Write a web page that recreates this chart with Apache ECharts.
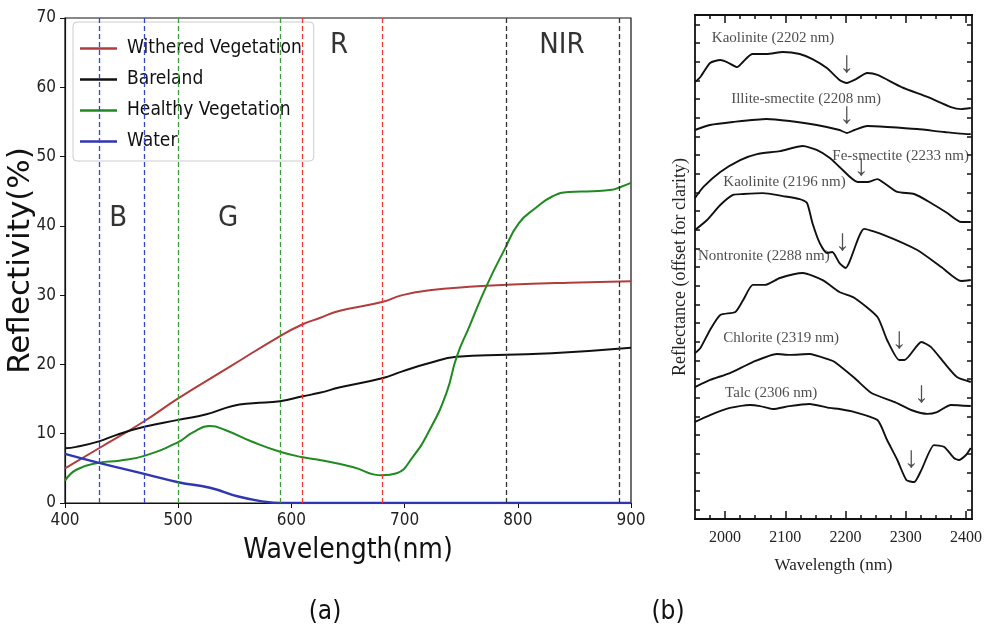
<!DOCTYPE html>
<html>
<head>
<meta charset="utf-8">
<script src="https://cdn.jsdelivr.net/npm/echarts@6.0.0/dist/echarts.min.js"></script>
<style>
  html, body { margin: 0; padding: 0; background: #fff; }
  #chart { width: 988px; height: 637px; }
</style>
</head>
<body>
<div id="chart"></div>
<script>
// (a) reflectivity curves, [wavelength nm, reflectivity %]
var withered = [[400,5.0],[430,7.9],[470,11.8],[500,15.1],[545,19.6],[590,24.1],[610,25.8],[625,26.7],[642,27.7],[680,29.0],[698,30.0],[722,30.7],[757,31.2],[790,31.5],[845,31.8],[900,32.0]];
var bareland = [[400,7.9],[410,8.1],[430,8.9],[445,9.8],[470,11.0],[500,12.0],[525,12.8],[548,14.0],[566,14.4],[590,14.7],[610,15.4],[625,15.9],[643,16.7],[680,18.0],[698,19.0],[722,20.2],[746,21.1],[790,21.4],[830,21.6],[900,22.4]];
var healthy = [[400,3.2],[410,4.8],[430,5.8],[448,6.1],[470,6.8],[500,8.8],[513,10.2],[528,11.1],[542,10.5],[566,8.8],[590,7.4],[610,6.6],[625,6.2],[654,5.2],[680,4.0],[693,4.3],[707,6.6],[722,10.5],[737,15.9],[746,21.1],[757,25.4],[772,31.2],[788,36.5],[801,40.4],[816,42.6],[830,44.2],[845,44.9],[866,45.0],[883,45.2],[889,45.5],[900,46.2]];
var water = [[400,7.1],[430,5.8],[470,4.2],[500,3.0],[528,2.2],[554,0.9],[578,0.15],[590,0],[900,0]];

// band edges (nm)
var bandBlue = [430, 470];
var bandGreen = [500, 590];
var bandRed = [610, 680];
var bandNir = [790, 890];

// (b) mineral spectra, [wavelength nm, reflectance offset for clarity]
var kaolinite2202 = [[1950,23.41],[1959,23.68],[1975,24.43],[1992,24.59],[2003,24.48],[2020,24.21],[2028,24.43],[2045,24.91],[2069,24.91],[2096,25.02],[2124,24.91],[2145,24.64],[2169,24.16],[2190,23.52],[2202,23.36],[2215,23.52],[2236,23.89],[2253,23.79],[2293,23.14],[2336,22.61],[2375,22.07],[2392,21.96],[2408,22.02]];
var illite2208 = [[1950,20.84],[1975,21.11],[2013,21.27],[2069,21.43],[2107,21.32],[2152,21.11],[2190,20.84],[2202,20.68],[2215,20.84],[2236,21.05],[2269,21.0],[2319,20.89],[2364,20.73],[2402,20.62],[2408,20.62]];
var feSmectite2233 = [[1950,17.2],[1964,17.79],[1992,18.59],[2025,19.23],[2053,19.55],[2091,19.71],[2129,19.98],[2152,19.77],[2174,19.34],[2190,18.86],[2220,18.05],[2236,18.05],[2253,18.21],[2264,18.0],[2286,17.52],[2314,17.41],[2342,16.93],[2369,16.39],[2392,15.91],[2408,15.91]];
var kaolinite2196 = [[1950,15.48],[1970,16.02],[1992,16.82],[2013,17.36],[2030,17.41],[2063,17.46],[2096,17.3],[2124,17.14],[2136,16.93],[2145,15.86],[2157,14.79],[2169,14.25],[2178,14.3],[2190,13.71],[2200,13.45],[2231,15.54],[2264,15.21],[2319,14.41],[2359,13.5],[2392,12.75],[2408,12.8]];
var nontronite2288 = [[1950,8.89],[1959,9.16],[1975,10.13],[1992,10.93],[2017,11.09],[2030,11.73],[2046,12.54],[2066,12.54],[2091,12.91],[2129,13.18],[2162,12.8],[2190,12.16],[2215,11.84],[2253,10.82],[2269,9.59],[2289,8.52],[2298,8.52],[2326,9.48],[2342,9.21],[2364,8.36],[2385,7.61],[2408,7.34]];
var chlorite2319 = [[1950,7.07],[1975,7.45],[2008,7.82],[2046,8.41],[2086,8.84],[2107,8.79],[2140,8.84],[2174,8.52],[2182,8.41],[2215,7.55],[2243,6.75],[2281,6.27],[2309,5.84],[2336,5.63],[2352,5.73],[2375,6.11],[2408,6.05]];
var talc2306 = [[1950,5.2],[1975,5.57],[2008,5.95],[2041,6.11],[2058,6.05],[2079,5.89],[2107,6.05],[2140,6.16],[2174,5.95],[2190,5.89],[2215,5.73],[2253,5.3],[2269,4.23],[2286,3.16],[2301,2.09],[2314,1.98],[2326,2.63],[2347,3.96],[2364,3.86],[2380,3.27],[2388,3.16],[2400,3.43],[2408,3.8]];

var mineralNames = ['Kaolinite (2202 nm)', 'Illite-smectite (2208 nm)', 'Fe-smectite (2233 nm)', 'Kaolinite (2196 nm)', 'Nontronite (2288 nm)', 'Chlorite (2319 nm)', 'Talc (2306 nm)'];
// absorption feature marked by each arrow (nm)
var arrowNm = [2202, 2202, 2226, 2195, 2289, 2326, 2309];

// (b) tick marks
var bTicksMinor = [1975,2000,2025,2050,2075,2100,2125,2150,2175,2200,2225,2250,2275,2300,2325,2350,2375,2400];
var bTicksMajor = [2000,2100,2200,2300,2400];
var bTicksY = [0.5,1.5,2.5,3.5,4.5,5.5,6.5,7.5,8.5,9.5,10.5,11.5,12.5,13.5,14.5,15.5,16.5,17.5,18.5,19.5,20.5,21.5,22.5,23.5,24.5,25.5,26.5];

var sansC = '"DejaVu Sans Condensed","Liberation Sans Narrow","DejaVu Sans",sans-serif';
var sans = '"DejaVu Sans",sans-serif';
var serif = '"Liberation Serif","DejaVu Serif",serif';

// where the text pieces sit, in axis units
var bandLabelAt = [[447, 41.1], [544, 41.1], [642, 66.1], [839, 66.1]];
var mineralLabelAt = [[1978, 25.77], [2010, 22.5], [2178, 19.45], [1997, 18.05], [1955, 14.09], [1997, 9.70], [2000, 6.75]];
var arrowY = [24.37, 21.64, 18.86, 14.84, 9.59, 6.70, 3.21];

var chart = echarts.init(document.getElementById('chart'));

function bandLines(edges, color) {
    return {
        silent: true, symbol: 'none', label: { show: false },
        lineStyle: { color: color, type: [5, 3], width: 1.3 },
        data: edges.map(function (x) { return { xAxis: x }; })
    };
}

function bAxis(pos, ticks, len, withLabels) {
    return {
        type: 'value', gridIndex: 1, position: pos, min: 1950, max: 2410,
        axisLine: { show: true, lineStyle: { color: '#111', width: 1.8 } },
        axisTick: { show: true, inside: true, length: len, customValues: ticks, lineStyle: { color: '#111', width: 1.5 } },
        axisLabel: withLabels ? { show: true, customValues: bTicksMajor, margin: 11, color: '#222', fontFamily: serif, fontSize: 16, formatter: function (v) { return String(v); } } : { show: false },
        splitLine: { show: false }
    };
}

var bSpectra = [kaolinite2202, illite2208, feSmectite2233, kaolinite2196, nontronite2288, chlorite2319, talc2306];

function curve(name, data, color, width, marks) {
    return { name: name, type: 'line', data: data, smooth: 0.5, symbol: 'none', lineStyle: { color: color, width: width }, itemStyle: { color: color }, markLine: marks, z: 3 };
}

var series = [
    curve('Withered Vegetation', withered, '#b03c3c', 2, bandLines(bandRed, '#ee3a3a')),
    curve('Bareland', bareland, '#111', 2, bandLines(bandNir, '#333')),
    curve('Healthy Vegetation', healthy, '#1f8a1f', 2, bandLines(bandGreen, '#3a9d3a')),
    curve('Water', water, '#2e36b0', 2.4, bandLines(bandBlue, '#3b43c8')),
    {
        type: 'scatter', symbolSize: 0, silent: true, xAxisIndex: 0, yAxisIndex: 0,
        data: ['B', 'G', 'R', 'NIR'].map(function (n, i) { return { name: n, value: bandLabelAt[i] }; }),
        label: { show: true, position: 'inside', formatter: '{b}', color: '#000', fontFamily: sansC, fontSize: 29 }
    }
];

bSpectra.forEach(function (d) {
    series.push({ type: 'line', xAxisIndex: 2, yAxisIndex: 1, data: d, symbol: 'none', smooth: 0.2, lineStyle: { color: '#111', width: 1.9 }, silent: true });
});
series.push({
    type: 'scatter', symbolSize: 0, silent: true, xAxisIndex: 2, yAxisIndex: 1,
    data: mineralNames.map(function (n, i) { return { name: n, value: mineralLabelAt[i] }; }),
    label: { show: true, position: 'right', distance: 0, formatter: '{b}', color: '#222', fontFamily: serif, fontSize: 15 }
});
series.push({
    type: 'scatter', symbolSize: 0, silent: true, xAxisIndex: 2, yAxisIndex: 1,
    data: arrowNm.map(function (x, i) { return [x, arrowY[i]]; }),
    label: { show: true, position: 'inside', formatter: '\u2193', color: '#222', fontFamily: serif, fontSize: 30 }
});

chart.setOption({
    animation: false,
    backgroundColor: '#fff',
    grid: [
        { left: 65, right: 357, top: 18, bottom: 134, show: true, borderColor: '#111', borderWidth: 1.2, outerBoundsMode: 'none' },
        { left: 695, right: 16, top: 15, bottom: 118, outerBoundsMode: 'none' }
    ],
    legend: {
        data: ['Withered Vegetation', 'Bareland', 'Healthy Vegetation', 'Water'],
        orient: 'vertical', left: 73, top: 22,
        icon: 'rect', itemWidth: 37, itemHeight: 2.5, itemGap: 12,
        padding: [17, 12, 10, 7],
        borderColor: '#ccc', borderWidth: 1, borderRadius: 4,
        backgroundColor: 'rgba(255,255,255,0.85)',
        textStyle: { fontFamily: sansC, fontSize: 19, color: '#111', padding: [0, 0, 0, 5] }
    },
    xAxis: [
        {
            type: 'value', gridIndex: 0, min: 400, max: 900, interval: 100,
            name: 'Wavelength(nm)', nameLocation: 'middle', nameGap: 34, nameMoveOverlap: false,
            nameTextStyle: { fontFamily: sansC, fontSize: 28, color: '#111' },
            axisLine: { show: true, lineStyle: { color: '#111', width: 1.2 } },
            axisTick: { show: true, length: 5, lineStyle: { color: '#111' } },
            axisLabel: { margin: 9, color: '#222', fontFamily: sansC, fontSize: 17 },
            splitLine: { show: false }
        },
        bAxis('bottom', bTicksMinor, 4, false),
        Object.assign(bAxis('bottom', bTicksMajor, 8, true), {
            name: 'Wavelength (nm)', nameLocation: 'middle', nameGap: 38, nameMoveOverlap: false,
            nameTextStyle: { fontFamily: serif, fontSize: 17, color: '#222' }
        }),
        bAxis('top', bTicksMinor, 4, false),
        bAxis('top', bTicksMajor, 8, false)
    ],
    yAxis: [
        {
            type: 'value', gridIndex: 0, min: 0, max: 70, interval: 10,
            name: 'Reflectivity(%)', nameLocation: 'middle', nameGap: 29, nameMoveOverlap: false,
            nameTextStyle: { fontFamily: sans, fontSize: 31, color: '#111' },
            axisLine: { show: true, lineStyle: { color: '#111', width: 1.2 } },
            axisTick: { show: true, length: 5, lineStyle: { color: '#111' } },
            axisLabel: { margin: 9, color: '#222', fontFamily: sansC, fontSize: 17 },
            splitLine: { show: false }
        },
        {
            type: 'value', gridIndex: 1, position: 'left', min: 0, max: 27,
            name: 'Reflectance (offset for clarity)', nameLocation: 'middle', nameGap: 6, nameMoveOverlap: false,
            nameTextStyle: { fontFamily: serif, fontSize: 18, color: '#222' },
            axisLine: { show: true, lineStyle: { color: '#111', width: 1.8 } },
            axisTick: { show: true, inside: true, length: 5, customValues: bTicksY, lineStyle: { color: '#111', width: 1.5 } },
            axisLabel: { show: false },
            splitLine: { show: false }
        },
        {
            type: 'value', gridIndex: 1, position: 'right', min: 0, max: 27,
            axisLine: { show: true, lineStyle: { color: '#111', width: 1.8 } },
            axisTick: { show: true, inside: true, length: 5, customValues: bTicksY, lineStyle: { color: '#111', width: 1.5 } },
            axisLabel: { show: false },
            splitLine: { show: false }
        }
    ],
    graphic: [
        { type: 'text', style: { text: '(a)', x: 325, y: 612, align: 'center', verticalAlign: 'middle', fill: '#111', font: '26px ' + sansC } },
        { type: 'text', style: { text: '(b)', x: 668, y: 612, align: 'center', verticalAlign: 'middle', fill: '#111', font: '26px ' + sansC } }
    ],
    series: series
});
</script>
</body>
</html>
